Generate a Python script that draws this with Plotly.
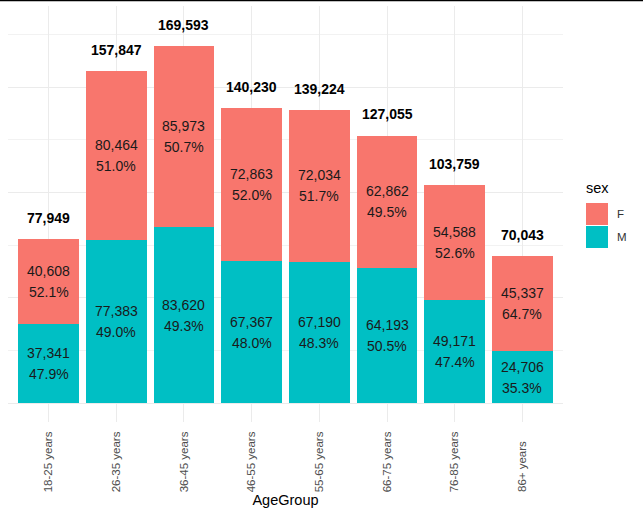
import plotly.graph_objects as go

age_groups = ["18-25 years", "26-35 years", "36-45 years", "46-55 years",
              "55-65 years", "66-75 years", "76-85 years", "86+ years"]
female = [40608, 80464, 85973, 72863, 72034, 62862, 54588, 45337]
male = [37341, 77383, 83620, 67367, 67190, 64193, 49171, 24706]
female_pct = [52.1, 51.0, 50.7, 52.0, 51.7, 49.5, 52.6, 64.7]
male_pct = [47.9, 49.0, 49.3, 48.0, 48.3, 50.5, 47.4, 35.3]

totals = [f + m for f, m in zip(female, male)]
label_offset = 10000

F_COL = "#F8766D"
M_COL = "#00BFC4"
FONT = "Liberation Sans, Arial, sans-serif"

# pad shorter labels so that all labels share the same baseline start (bottom-aligned)
maxlen = max(len(a) for a in age_groups)
tick_text = [a + "\u00a0" * (3 if len(a) < maxlen else 0) for a in age_groups]

fig = go.Figure()
fig.add_trace(go.Bar(x=age_groups, y=male, name="M", marker_color=M_COL,
                     marker_line_width=0, width=0.9, showlegend=False))
fig.add_trace(go.Bar(x=age_groups, y=female, name="F", marker_color=F_COL,
                     marker_line_width=0, width=0.9, showlegend=False))

ann = []
txt_font = dict(size=14, color="#1a1a1a", family=FONT)
for i, g in enumerate(age_groups):
    ym = male[i] / 2
    yf = male[i] + female[i] / 2
    ann.append(dict(x=g, y=ym, text=f"{male[i]:,}", yshift=10.5, showarrow=False, font=txt_font))
    ann.append(dict(x=g, y=ym, text=f"{male_pct[i]:.1f}%", yshift=-10.5, showarrow=False, font=txt_font))
    ann.append(dict(x=g, y=yf, text=f"{female[i]:,}", yshift=10.5, showarrow=False, font=txt_font))
    ann.append(dict(x=g, y=yf, text=f"{female_pct[i]:.1f}%", yshift=-10.5, showarrow=False, font=txt_font))
    ann.append(dict(x=g, y=totals[i] + label_offset, text=f"<b>{totals[i]:,}</b>",
                    showarrow=False, font=dict(size=14, color="black", family=FONT)))

# panel geometry (pixels)
L, T, R, B = 8, 6, 80, 93
W, H = 643, 515
pw = W - L - R
ph = H - T - B
def px_x(p):
    return (p - L) / pw
def px_y(p):
    return 1 - (p - T) / ph

# manual ggplot-style legend
ann.append(dict(xref="paper", yref="paper", x=px_x(584), y=px_y(188), text="sex",
                showarrow=False, xanchor="left", yanchor="middle",
                font=dict(size=14.5, color="black", family=FONT)))
shapes = []
for j, (lab, col) in enumerate([("F", F_COL), ("M", M_COL)]):
    y0 = 203 + j * 23
    shapes.append(dict(type="rect", xref="paper", yref="paper",
                       x0=px_x(586), x1=px_x(608), y0=px_y(y0), y1=px_y(y0 + 22),
                       fillcolor=col, line=dict(width=0)))
    ann.append(dict(xref="paper", yref="paper", x=px_x(615), y=px_y(y0 + 11), text=lab,
                    showarrow=False, xanchor="left", yanchor="middle",
                    font=dict(size=11.5, color="#333333", family=FONT)))

shapes.append(dict(type="line", xref="paper", yref="paper",
                   x0=px_x(-5), x1=px_x(650), y0=px_y(0.5), y1=px_y(0.5),
                   line=dict(color="black", width=1.5)))

ymax = max(totals) + label_offset
fig.update_layout(
    barmode="stack",
    bargap=0.1,
    width=W, height=H,
    margin=dict(l=L, r=R, t=T, b=B, autoexpand=False),
    paper_bgcolor="white", plot_bgcolor="white",
    font=dict(family=FONT),
    annotations=ann,
    shapes=shapes,
    xaxis=dict(title=dict(text="AgeGroup", font=dict(size=14.5, color="black"), standoff=2),
               tickangle=-90, tickfont=dict(size=11.5, color="#4d4d4d"),
               tickmode="array", tickvals=age_groups, ticktext=tick_text,
               showgrid=True, gridcolor="#EBEBEB", gridwidth=1, automargin=False,
               showline=False, zeroline=False, ticks="outside", ticklen=4,
               tickcolor="rgba(0,0,0,0)",
               range=[-0.6, len(age_groups) - 0.4]),
    yaxis=dict(showticklabels=False, showgrid=True, gridcolor="#EBEBEB", gridwidth=1,
               dtick=50000, tick0=0, zeroline=False, showline=False, ticks="", automargin=False,
               minor=dict(showgrid=True, dtick=25000, gridcolor="#F2F2F2", gridwidth=1),
               range=[-0.05 * ymax, 1.05 * ymax]),
)

fig.write_html("out.html", config={"displayModeBar": False},
               post_script="document.body.style.margin='0px';")
